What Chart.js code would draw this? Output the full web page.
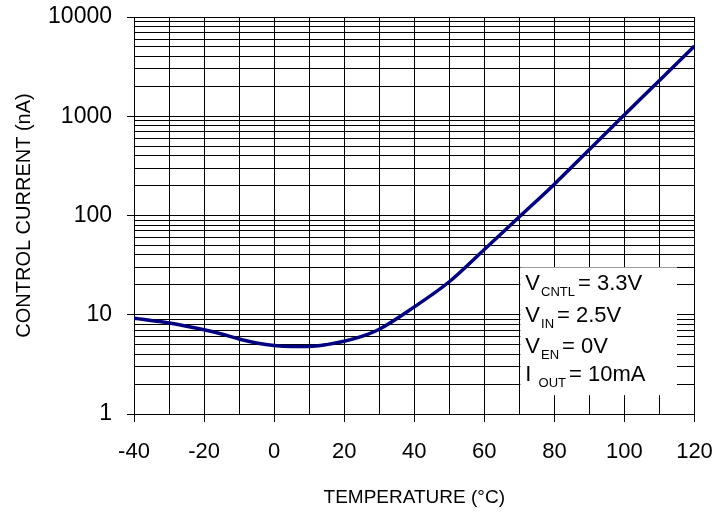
<!DOCTYPE html>
<html>
<head>
<meta charset="utf-8">
<script src="https://cdn.jsdelivr.net/npm/chart.js@4.4.1/dist/chart.umd.min.js"></script>
<style>
  html, body { margin: 0; padding: 0; background: #fff; }
  #wrap { width: 719px; height: 515px; }
</style>
</head>
<body>
<div id="wrap"><canvas id="chart"></canvas></div>
<script>
// temperature (degC) and control current (nA)
const temps = [-40, -30, -20, -15, -10, -5, 0, 5, 10, 15, 20, 25, 30, 40, 50, 60, 70, 80, 90, 100, 110, 120];
const currents = [9.2, 8.25, 7.05, 6.4, 5.7, 5.2, 4.9, 4.8, 4.8, 5.0, 5.4, 6.05, 7.15, 12, 21.5, 45.5, 97, 207, 462, 1035, 2290, 5100];

const xTickValues = [-40, -20, 0, 20, 40, 60, 80, 100, 120];
const xTickLabels = ['-40', '-20', '0', '20', '40', '60', '80', '100', '120'];
const yDecades = [1, 10, 100, 1000, 10000];
const yTickLabels = ['1', '10', '100', '1000', '10000'];
const yMinors = [1, 2, 3, 4, 5, 6, 7, 8, 9];

// conditions box text
const noteLines = [
    { main: 'V', sub: 'CNTL', rest: '= 3.3V' },
    { main: 'V', sub: 'IN', rest: '= 2.5V' },
    { main: 'V', sub: 'EN', rest: '= 0V' },
    { main: 'I ', sub: 'OUT', rest: '= 10mA' }
];

const fontFamily = '"Liberation Sans", Arial, sans-serif';

const yGrid = [];
yDecades.slice(0, -1).forEach(d => yMinors.forEach(m => yGrid.push(d * m)));
yGrid.push(yDecades[yDecades.length - 1]);

const notePlugin = {
    id: 'noteBox',
    afterDatasetsDraw(chart) {
        const ctx = chart.ctx;
        const xs = chart.scales.x, ys = chart.scales.y;
        const left = xs.getPixelForValue(70) + 1;
        const right = xs.getPixelForValue(115);
        const top = ys.getPixelForValue(30);
        const bottom = ys.getPixelForValue(1.55);
        ctx.save();
        ctx.fillStyle = '#fff';
        ctx.fillRect(left, top, right - left, bottom - top);
        ctx.fillStyle = '#000';
        ctx.textBaseline = 'alphabetic';
        const baselines = [23, 54.5, 86, 114];
        noteLines.forEach((ln, i) => {
            let x = left + 5;
            const y = top + baselines[i];
            ctx.font = '22px ' + fontFamily;
            ctx.fillText(ln.main, x, y);
            x += ctx.measureText(ln.main).width + 1;
            ctx.font = '13px ' + fontFamily;
            ctx.fillText(ln.sub, x, y + 6);
            x += ctx.measureText(ln.sub).width + 3;
            ctx.font = '22px ' + fontFamily;
            ctx.fillText(ln.rest, x, y);
        });
        ctx.restore();
    }
};

const chart = new Chart(document.getElementById('chart').getContext('2d'), {
    type: 'line',
    data: {
        datasets: [{
            data: temps.map((t, i) => ({ x: t, y: currents[i] })),
            borderColor: '#000080',
            borderWidth: 3.5,
            pointRadius: 0,
            fill: false,
            cubicInterpolationMode: 'monotone'
        }]
    },
    options: {
        responsive: true,
        maintainAspectRatio: false,
        animation: false,
        layout: { padding: { left: 0, top: 17, right: 24.5, bottom: 0 } },
        plugins: { legend: { display: false }, tooltip: { enabled: false } },
        scales: {
            x: {
                type: 'linear',
                min: -40,
                max: 120,
                afterFit: s => { s.height = 101; s.paddingLeft = 0; s.paddingRight = 0; },
                ticks: {
                    stepSize: 10,
                    autoSkip: false,
                    maxRotation: 0,
                    padding: 17,
                    color: '#000',
                    font: { family: fontFamily, size: 22 },
                    callback: v => {
                        const k = xTickValues.indexOf(v);
                        return k >= 0 ? xTickLabels[k] : '';
                    }
                },
                grid: {
                    color: '#000',
                    lineWidth: 1,
                    tickLength: 8,
                    tickColor: c => (c.tick && xTickValues.includes(c.tick.value)) ? '#000' : 'rgba(0,0,0,0)'
                },
                border: { display: true, color: '#000', width: 1 },
                title: {
                    display: true,
                    text: 'TEMPERATURE (°C)',
                    color: '#000',
                    font: { family: fontFamily, size: 19 },
                    padding: { top: 0, bottom: 6 }
                }
            },
            y: {
                type: 'logarithmic',
                min: 1,
                max: 10000,
                afterFit: s => { s.width = 134; s.paddingTop = 0; s.paddingBottom = 0; },
                afterBuildTicks: s => { s.ticks = yGrid.map(v => ({ value: v })); },
                ticks: {
                    autoSkip: false,
                    padding: 15,
                    color: '#000',
                    font: { family: fontFamily, size: 23 },
                    callback: v => {
                        const k = yDecades.indexOf(v);
                        return k >= 0 ? yTickLabels[k] : '';
                    }
                },
                grid: {
                    color: '#000',
                    lineWidth: 1,
                    tickLength: 7,
                    tickColor: c => (c.tick && yDecades.includes(c.tick.value)) ? '#000' : 'rgba(0,0,0,0)'
                },
                border: { display: true, color: '#000', width: 1 },
                title: {
                    display: true,
                    text: 'CONTROL CURRENT (nA)',
                    color: '#000',
                    font: { family: fontFamily, size: 20 },
                    padding: { top: 12, bottom: 0 }
                }
            }
        }
    },
    plugins: [notePlugin]
});
</script>
</body>
</html>
